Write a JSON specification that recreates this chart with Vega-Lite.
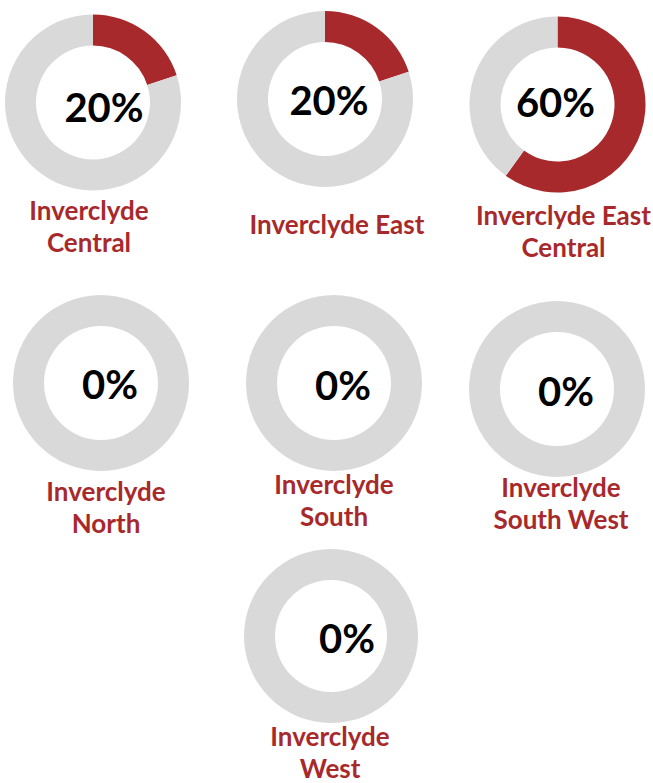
{
  "$schema": "https://vega.github.io/schema/vega-lite/v6.json",
  "padding": 0,
  "background": "white",
  "config": {
    "view": {"stroke": null},
    "title": {"font": "Lato", "fontSize": 26, "fontWeight": "bold", "color": "#A8292C", "lineHeight": 32, "orient": "bottom", "frame": "group", "anchor": "middle"},
    "arc": {"radius": 88, "radius2": 57},
    "text": {"font": "Lato", "fontWeight": "bold", "fontSize": 40, "baseline": "middle", "color": "black"}
  },
  "data": {"values": [
    {"area": "Inverclyde Central", "part": "share", "value": 0.2},
    {"area": "Inverclyde Central", "part": "rest", "value": 0.8},
    {"area": "Inverclyde East", "part": "share", "value": 0.2},
    {"area": "Inverclyde East", "part": "rest", "value": 0.8},
    {"area": "Inverclyde East Central", "part": "share", "value": 0.6},
    {"area": "Inverclyde East Central", "part": "rest", "value": 0.4},
    {"area": "Inverclyde North", "part": "share", "value": 0},
    {"area": "Inverclyde North", "part": "rest", "value": 1},
    {"area": "Inverclyde South", "part": "share", "value": 0},
    {"area": "Inverclyde South", "part": "rest", "value": 1},
    {"area": "Inverclyde South West", "part": "share", "value": 0},
    {"area": "Inverclyde South West", "part": "rest", "value": 1},
    {"area": "Inverclyde West", "part": "share", "value": 0},
    {"area": "Inverclyde West", "part": "rest", "value": 1}
  ]},
  "vconcat": [
    {
      "hconcat": [
        {
          "width": 186, "height": 205,
          "transform": [{"filter": "datum.area === 'Inverclyde Central'"}],
          "title": {"text": ["Inverclyde", "Central"], "offset": -6, "dx": -4},
          "layer": [
            {"mark": {"type": "arc"}, "encoding": {"theta": {"field": "value", "type": "quantitative", "stack": true}, "color": {"field": "part", "type": "nominal", "scale": {"domain": ["share", "rest"], "range": ["#A8292C", "#D9D9D9"]}, "legend": null}, "order": {"field": "part", "sort": "descending"}}},
            {"transform": [{"filter": "datum.part === 'share'"}], "mark": {"type": "text", "dx": 11, "dy": 7}, "encoding": {"text": {"field": "value", "type": "quantitative", "format": ".0%"}}}
          ]
        },
        {
          "width": 238, "height": 198,
          "transform": [{"filter": "datum.area === 'Inverclyde East'"}],
          "title": {"text": ["Inverclyde East"], "offset": 15, "dx": 12},
          "layer": [
            {"mark": {"type": "arc"}, "encoding": {"theta": {"field": "value", "type": "quantitative", "stack": true}, "color": {"field": "part", "type": "nominal", "scale": {"domain": ["share", "rest"], "range": ["#A8292C", "#D9D9D9"]}, "legend": null}, "order": {"field": "part", "sort": "descending"}}},
            {"transform": [{"filter": "datum.part === 'share'"}], "mark": {"type": "text", "dx": 4, "dy": 4}, "encoding": {"text": {"field": "value", "type": "quantitative", "format": ".0%"}}}
          ]
        },
        {
          "width": 187, "height": 209,
          "transform": [{"filter": "datum.area === 'Inverclyde East Central'"}],
          "title": {"text": ["Inverclyde East", "Central"], "offset": -5, "dx": 6},
          "layer": [
            {"mark": {"type": "arc"}, "encoding": {"theta": {"field": "value", "type": "quantitative", "stack": true}, "color": {"field": "part", "type": "nominal", "scale": {"domain": ["share", "rest"], "range": ["#A8292C", "#D9D9D9"]}, "legend": null}, "order": {"field": "part", "sort": "descending"}}},
            {"transform": [{"filter": "datum.part === 'share'"}], "mark": {"type": "text", "dx": -2, "dy": 0}, "encoding": {"text": {"field": "value", "type": "quantitative", "format": ".0%"}}}
          ]
        }
      ],
      "spacing": 20
    },
    {
      "hconcat": [
        {
          "width": 202, "height": 242,
          "transform": [{"filter": "datum.area === 'Inverclyde North'"}],
          "title": {"text": ["Inverclyde", "North"], "offset": -24, "dx": 5},
          "layer": [
            {"mark": {"type": "arc"}, "encoding": {"theta": {"field": "value", "type": "quantitative", "stack": true}, "color": {"field": "part", "type": "nominal", "scale": {"domain": ["share", "rest"], "range": ["#A8292C", "#D9D9D9"]}, "legend": null}, "order": {"field": "part", "sort": "descending"}}},
            {"transform": [{"filter": "datum.part === 'share'"}], "mark": {"type": "text", "dx": 9, "dy": 4}, "encoding": {"text": {"field": "value", "type": "quantitative", "format": ".0%"}}}
          ]
        },
        {
          "width": 224, "height": 242,
          "transform": [{"filter": "datum.area === 'Inverclyde South'"}],
          "title": {"text": ["Inverclyde", "South"], "offset": -31, "dx": 0},
          "layer": [
            {"mark": {"type": "arc"}, "encoding": {"theta": {"field": "value", "type": "quantitative", "stack": true}, "color": {"field": "part", "type": "nominal", "scale": {"domain": ["share", "rest"], "range": ["#A8292C", "#D9D9D9"]}, "legend": null}, "order": {"field": "part", "sort": "descending"}}},
            {"transform": [{"filter": "datum.part === 'share'"}], "mark": {"type": "text", "dx": 9, "dy": 5}, "encoding": {"text": {"field": "value", "type": "quantitative", "format": ".0%"}}}
          ]
        },
        {
          "width": 182, "height": 254,
          "transform": [{"filter": "datum.area === 'Inverclyde South West'"}],
          "title": {"text": ["Inverclyde", "South West"], "offset": -40, "dx": 4},
          "layer": [
            {"mark": {"type": "arc"}, "encoding": {"theta": {"field": "value", "type": "quantitative", "stack": true}, "color": {"field": "part", "type": "nominal", "scale": {"domain": ["share", "rest"], "range": ["#A8292C", "#D9D9D9"]}, "legend": null}, "order": {"field": "part", "sort": "descending"}}},
            {"transform": [{"filter": "datum.part === 'share'"}], "mark": {"type": "text", "dx": 9, "dy": 5}, "encoding": {"text": {"field": "value", "type": "quantitative", "format": ".0%"}}}
          ]
        }
      ],
      "spacing": 20
    },
    {
      "hconcat": [
        {
          "width": 216, "height": 20,
          "data": {"values": [{"blank": ""}]},
          "mark": {"type": "text"},
          "encoding": {"text": {"field": "blank", "type": "nominal"}}
        },
        {
          "width": 190, "height": 176,
          "transform": [{"filter": "datum.area === 'Inverclyde West'"}],
          "title": {"text": ["Inverclyde", "West"], "offset": 1, "dx": -1},
          "layer": [
            {"mark": {"type": "arc", "radius": 87, "radius2": 56}, "encoding": {"theta": {"field": "value", "type": "quantitative", "stack": true}, "color": {"field": "part", "type": "nominal", "scale": {"domain": ["share", "rest"], "range": ["#A8292C", "#D9D9D9"]}, "legend": null}, "order": {"field": "part", "sort": "descending"}}},
            {"transform": [{"filter": "datum.part === 'share'"}], "mark": {"type": "text", "dx": 16, "dy": 5}, "encoding": {"text": {"field": "value", "type": "quantitative", "format": ".0%"}}}
          ]
        }
      ],
      "spacing": 20
    }
  ],
  "spacing": 0
}
